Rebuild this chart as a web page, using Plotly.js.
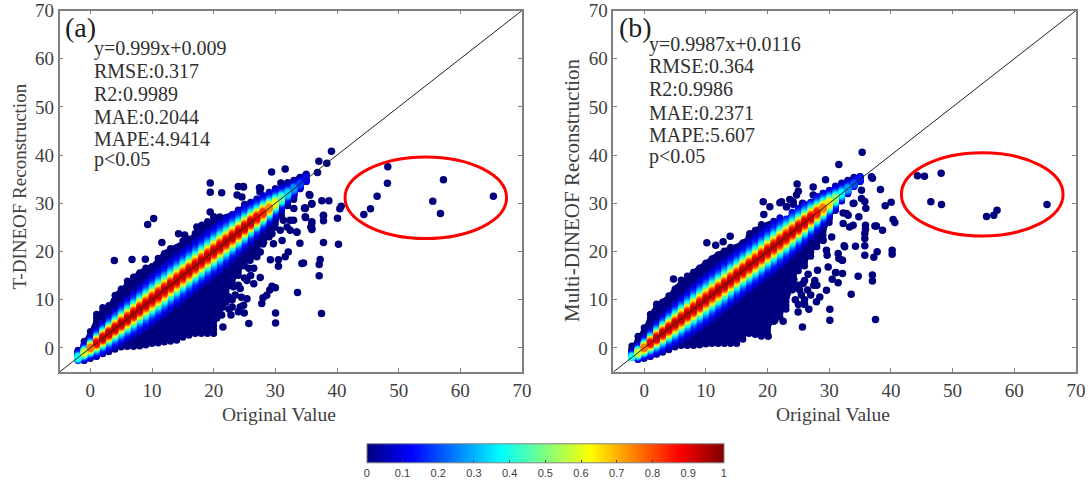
<!DOCTYPE html>
<html>
<head>
<meta charset="utf-8">
<script src="https://cdn.plot.ly/plotly-3.0.1.min.js"></script>
<style>html,body{margin:0;padding:0;background:#fff}</style>
</head>
<body>
<div id="graph" style="width:1091px;height:486px"></div>
<script>
// the dense cloud cannot be read point by point, so it is summarised per 1-unit column:
// envelope, peak colour and spread were estimated off the picture. Outliers are read one by one.
const colX = [-2,-1,0,1,2,3,4,5,6,7,8,9,10,11,12,13,14,15,16,17,18,19,20,21,22,23,24,25,26,27,28,29,30,31,32,33,34,35];

const highA = [-0.5,1.8,4,7,8.5,9.3,11.5,12.6,14,15.2,16.2,17,17.5,19,20.3,21,21.6,22.3,23,24.2,25,26.3,27,27.4,27.8,28.2,29,29.9,30.5,31,31.8,32.3,33,33.8,34.6,35.3,36,36.5];
const lowA = [-2.6,-2.6,-2.2,-1.8,-1.2,-0.8,-0.3,0.2,0.3,0.3,0.4,0.6,0.9,1,1.2,1.4,1.6,2.2,2.6,3,3,3,3,8,11,13,15,17,19,20,21.5,23,25,27.5,29.5,30.8,33,34.5];
const highB = [0.6,2.6,4.6,7.5,9.4,10.2,11.3,13,14.2,15.3,16.3,17.2,18.2,19.2,20,20.7,21.2,21.6,22.5,23.3,25,25.7,26.2,26.6,27,27.2,28.2,29,29.8,30.6,31.5,32.2,33,33.8,34.4,35,35.4,35.6];
const lowB = [-2,-2.4,-2.2,-1.8,-1.3,-0.9,-0.4,0.2,0.5,0.5,0.5,0.6,0.8,0.9,0.9,0.9,0.9,0.9,1.8,3,2.8,2.4,3,5.5,6.4,8,12,16,17,19,21,22.5,26,28.5,30.5,32,33.5,34.5];

// peak density and spread of the colour band, column by column
const peakA = [0.42,0.62,0.82,0.95,1,1,1,1,1,1,1,1,1,1,1,1,1,1,1,1,1,1,1,1,1,1,1,1,1,0.95,0.9,0.8,0.65,0.5,0.36,0.28,0.2,0.14];
const peakB = [0.42,0.62,0.82,0.95,1,1,1,1,1,1,1,1,1,1,1,1,1,1,1,1,1,1,1,1,1,1,1,1,1,0.98,0.92,0.82,0.7,0.55,0.4,0.3,0.22,0.16];
const spreadA = [0.3,0.35,0.45,0.55,0.62,0.68,0.74,0.8,0.84,0.88,0.92,0.95,0.97,1,1,1,1,1,1,1,1,1,1,1,0.97,0.94,0.9,0.86,0.82,0.78,0.72,0.66,0.6,0.5,0.42,0.34,0.26,0.2];
const spreadB = [0.3,0.35,0.45,0.55,0.65,0.72,0.78,0.84,0.88,0.92,0.96,1,1,1,1,1,1,1,1,1,1,1,1,1,1,0.98,0.94,0.9,0.86,0.82,0.76,0.7,0.62,0.52,0.44,0.36,0.28,0.22];

// colour level and how far from the 1:1 line it reaches
const levels = [0.06,0.1,0.15,0.2,0.25,0.3,0.35,0.4,0.45,0.5,0.55,0.6,0.65,0.7,0.75,0.8,0.85,0.9,0.93];
const levelOffset = [5,4.4,3.8,3.3,2.95,2.65,2.4,2.15,1.95,1.75,1.55,1.4,1.2,1.05,0.9,0.72,0.5,0.25,0];

const outX_A = [39.1,37.06,38.35,36.84,48.24,48.18,46.5,45.43,44.35,57.26,55.53,56.77,65.36,37.54,38.68,35.6,35.92,34.73,40.68,40.46,40.08,37.81,37.81,34.9,35.92,35.76,35.92,32.95,33.49,32.41,33.98,37.81,40.24,34.57,34.3,37.27,37.11,37.11,33.6,37.49,10.27,9.3,3.89,6.76,8.92,14.3,15.3,11.6,19.45,19.45,29.4,31.6,21.3,24,24.8,27.6,23.8,30.04,30.04,25.7,21.5,24.96,30.5,29.2,30.5,31.6,32.1,29.45,30,29.1,28.6,28,27.8,25.4,24.85,24.3,22.8,21.3,22.4,21.6,23,25.7,26.5,27.55,25.4,26.5,24.3,23.2,25.9,27,27.55,29.45,31.3,32.4,33.5,31.1,30.8,31.9,29.7,28.1,26.5,35.9,34.85,34.85,35.9,35.9,37.8,17.28,18.1,19.44,20,18.4,21.3,24.84,27.43,27.5,24.57,30.9,35.5,34.8,33,21,21.5,22,22.5,23,23.5,24,25,24.5,20.5,26,24];
const outY_A = [40.8,38.74,38.32,36.39,37.56,34.17,31.48,28.85,27.67,34.87,30.44,27.88,31.48,30.51,30.51,31.68,29.95,28.99,29.4,28.85,26.91,27.4,26.36,27.05,26.15,25.1,24.56,26.5,24.07,24.42,21.73,21.86,21.52,17.64,17.5,18.34,17.3,14.95,11.49,7.13,26.84,25.6,18.12,18.33,18.4,23.7,23.4,21.86,34.2,32.3,36.5,37.1,32.2,33.5,33.5,33.1,31.7,7.26,5.19,5.05,4.36,7.26,16.95,18.3,18.3,18.9,19.9,12.8,12.5,12,10.9,10.4,9.2,10.2,8.85,8.5,6.8,6.8,10.6,9.5,8.5,16.5,16.5,14.6,14,13.3,12.3,12.7,18.2,18.9,19.9,23.7,26.5,26.5,24,22.3,24.4,25.1,21.6,22,19.2,29.8,28.9,27.2,25.8,24.8,27.5,25.1,25.46,28.2,27.2,23,25.8,33.4,33.25,32.35,31.3,34.2,31.8,29.1,28.9,7,8.5,9.5,8,10,11,13,14.5,10.5,6.2,15,7.5];

const outX_B = [35.34,31.56,44.3,45.44,48.14,36.85,37,38.3,35.23,35.23,35.77,35.94,33.88,39.07,40.04,46.47,48.2,65.3,55.5,56.68,57.2,40.36,40.63,34.8,37.66,37.4,35.88,35.88,35.77,35.77,35.77,38.64,33.88,33.3,32.26,33.07,32.26,34.26,32.42,37.77,35.77,37.23,40.2,40.2,32.15,31.45,31.56,32.15,31.02,34.69,37,37,30.48,31.45,33.56,37.5,30.1,30.1,25.66,4.76,13.94,10.16,12.8,11.6,17.13,19.4,20.37,22,23.07,24.15,19.3,20.1,22.53,21.18,29.55,28.47,27.93,26.7,24.96,31.07,29.83,28.1,27.66,25.2,24.26,26.58,25.77,32.1,29.66,29.55,32.5,30.4,29,32.8,34,29.4,27.4,24.8,25,24.7,27.4,23.6,24.16,22.27,23.08,25.67,24.5,25,25.5,26,26.5,26,27,27.5,28,25,24.5,26];
const outY_B = [40.6,38.05,35.7,35.63,36.25,35.49,35.2,32.86,32.72,31,30.37,28.99,29.95,29.47,30.23,30.3,29.75,29.75,27.26,27.54,28.57,26.63,26,27.2,25.3,25.3,25.46,24.63,23.73,22.69,21.17,24.42,25.46,25.1,25.8,27.5,28,21.1,21.17,19.93,19.23,18.82,20.27,19.45,18.2,19.6,18.55,15.43,15.57,14.88,15.15,13.9,14.26,13.5,11.15,5.9,5.75,8,4.36,14.3,23.17,21.8,22,21.3,23.7,27.7,29.3,30.1,29.3,30.3,30.3,2.4,5.54,5.74,11.96,10.58,9.55,8,7.47,15.63,16.8,16.1,14,12,14.25,15.3,13.35,18.2,19.2,20.27,21,23,22.3,27.9,30,34.9,33.4,34,32.5,31.7,31.7,30.8,29.8,30.3,29.3,30,10,9,11,10,12,14,11,13,13,13,12.5,9];

const diagonal = [-5,70];
const axisTicks = [0,10,20,30,40,50,60,70];
const barTicks = [0,0.1,0.2,0.3,0.4,0.5,0.6,0.7,0.8,0.9,1];
const statsA = ["y=0.999x+0.009","RMSE:0.317","R2:0.9989","MAE:0.2044","MAPE:4.9414","p<0.05"];
const statsB = ["y=0.9987x+0.0116","RMSE:0.364","R2:0.9986","MAE:0.2371","MAPE:5.607","p<0.05"];

const jet = [[0,"#00007f"],[0.125,"#0000ff"],[0.375,"#00ffff"],[0.625,"#ffff00"],[0.875,"#ff0000"],[1,"#7f0000"]];

const W = 1091, H = 486;
const serif = "Liberation Serif, Times New Roman, serif";
function px(x) { return x / W; }
function py(y) { return 1 - y / H; }

function bodyPoints(high, low, peak, spread) {
    let pts = [];
    colX.forEach(function (x, i) {
        for (let y = low[i]; y <= high[i]; y += 0.8) pts.push({ x: x, y: y, c: 0 });
        levels.forEach(function (lev, j) {
            const off = levelOffset[j] * spread[i];
            const c = lev * peak[i];
            if (x + off <= high[i]) pts.push({ x: x, y: x + off, c: c });
            if (x - off >= low[i]) pts.push({ x: x, y: x - off, c: c });
        });
    });
    pts.sort(function (a, b) { return a.c - b.c; });
    return pts;
}

function panelTraces(xa, ya, high, low, peak, spread, outX, outY) {
    const pts = bodyPoints(high, low, peak, spread);
    return [
        { x: colX.concat(colX.slice().reverse()), y: high.concat(low.slice().reverse()), xaxis: xa, yaxis: ya, mode: "lines", fill: "toself", fillcolor: "#00007f", line: { width: 0 }, hoverinfo: "skip" },
        { x: outX, y: outY, xaxis: xa, yaxis: ya, mode: "markers", marker: { size: 7.5, color: "#00007f" } },
        { x: pts.map(function (p) { return p.x; }), y: pts.map(function (p) { return p.y; }), xaxis: xa, yaxis: ya, mode: "markers", marker: { size: 7, color: pts.map(function (p) { return p.c; }), coloraxis: "coloraxis" } },
        { x: diagonal, y: diagonal, xaxis: xa, yaxis: ya, mode: "lines", line: { color: "#222", width: 1 } }
    ];
}

function axisStyle(domain, anchor) {
    return {
        domain: domain, range: [-5, 70], anchor: anchor, tickvals: axisTicks,
        ticks: "inside", ticklen: 4, tickcolor: "#808080", tickwidth: 1.2,
        mirror: "ticks", showline: true, linecolor: "#808080", linewidth: 1.5,
        showgrid: false, zeroline: false,
        tickfont: { family: serif, size: 19, color: "#404040" }
    };
}

function note(text, x, y, anchor, size, color, angle) {
    return { text: text, xref: "paper", yref: "paper", x: px(x), y: py(y), xanchor: anchor, yanchor: "middle", showarrow: false, textangle: angle, font: { family: serif, size: size, color: color } };
}

function statNotes(lines, left, tops, label, labelLeft) {
    let notes = lines.map(function (t, i) { return note(t, left, tops[i], "left", 20, "#303030", 0); });
    notes.push(note(label, labelLeft, 27, "left", 28, "#202020", 0));
    return notes;
}

const data = panelTraces("x", "y", highA, lowA, peakA, spreadA, outX_A, outY_A)
    .concat(panelTraces("x2", "y2", highB, lowB, peakB, spreadB, outX_B, outY_B));

const layout = {
    width: W, height: H, showlegend: false,
    paper_bgcolor: "#fff", plot_bgcolor: "#fff",
    margin: { l: 0, r: 0, t: 0, b: 0, autoexpand: false },
    xaxis: axisStyle([px(59.5), px(522)], "y"),
    yaxis: axisStyle([py(372), py(10.5)], "x"),
    xaxis2: axisStyle([px(613.3), px(1076)], "y2"),
    yaxis2: axisStyle([py(372), py(10.5)], "x2"),
    coloraxis: {
        cmin: 0, cmax: 1, colorscale: jet,
        colorbar: {
            orientation: "h", thickness: 19, thicknessmode: "pixels", len: 357, lenmode: "pixels",
            x: px(545.3), xanchor: "center", y: py(483), yanchor: "bottom", xpad: 0, ypad: 0,
            tickvals: barTicks, ticktext: barTicks.map(String), ticks: "inside", ticklen: 3, tickcolor: "#444",
            outlinecolor: "#808080", outlinewidth: 1, tickfont: { family: "Liberation Sans, Arial, sans-serif", size: 11, color: "#404040" }
        }
    },
    shapes: [
        { type: "circle", xref: "x", yref: "y", x0: 41.3, x1: 67.5, y0: 22.7, y1: 39.6, line: { color: "#ff0000", width: 3 } },
        { type: "circle", xref: "x2", yref: "y2", x0: 41.7, x1: 67.9, y0: 23.2, y1: 40.5, line: { color: "#ff0000", width: 3 } }
    ],
    annotations: statNotes(statsA, 92, [48, 71, 94, 117, 139, 159], "(a)", 63)
        .concat(statNotes(statsB, 647, [44, 66, 89, 113, 135, 156], "(b)", 617))
        .concat([
            note("Original Value", 278.5, 414, "center", 19.5, "#404040", 0),
            note("Original Value", 832.5, 414, "center", 19.5, "#404040", 0),
            note("T-DINEOF Reconstruction", 19, 186.5, "center", 19, "#404040", -90),
            note("Multi-DINEOF Reconstruction", 572, 190, "center", 21, "#404040", -90)
        ])
};

Plotly.newPlot("graph", data, layout, { displayModeBar: false });
</script>
</body>
</html>
